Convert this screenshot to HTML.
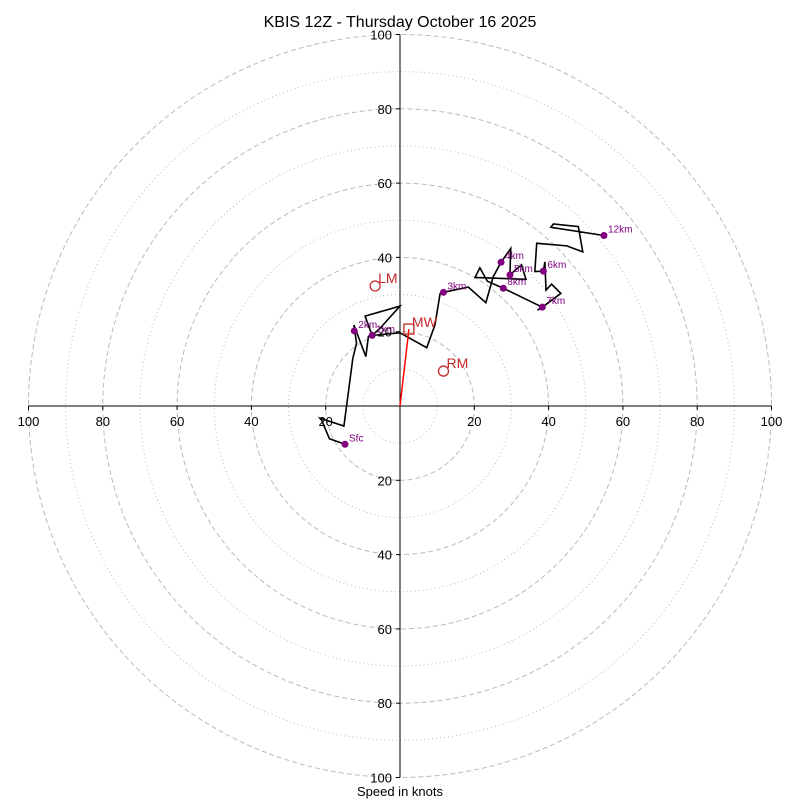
<!DOCTYPE html>
<html><head><meta charset="utf-8"><style>
body{margin:0;background:#fff}svg{display:block;font-family:"Liberation Sans",sans-serif}
</style></head><body>
<svg id="c" width="800" height="800"></svg>
<script>
const pathU=[-14.8,-19.0,-21.1,-21.5,-15.1,-12.7,-11.7,-12.4,-9.2,-8.5,-7.5,-9.4,0,-5.4,-7.5,0,7.2,9.4,10.8,11.7,18.4,23.1,25.1,27.2,29.8,29.6,32.7,33.9,20.2,21.5,23.5,27.8,38.3,37.0,38.3,43.3,40.8,39.3,39.0,38.6,36.3,36.8,44.9,49.2,48.0,41.3,40.6,54.9];
const pathV=[-10.3,-8.8,-3.8,-3.3,-5.4,12.8,16.9,21.8,13.3,18.7,19.0,24.2,26.9,20.9,19.0,19.7,15.7,21.8,30.3,30.6,32.0,27.8,34.8,38.7,42.4,35.3,38.0,34.1,34.6,37.2,33.6,31.7,26.6,25.8,26.6,30.3,32.8,31.2,38.8,36.3,36.2,43.8,43.1,41.5,48.3,49.0,48.1,45.9];
const markLabels=["Sfc","1km","2km","3km","4km","5km","6km","7km","8km","12km"];
const markU=[-14.8,-7.5,-12.3,11.7,27.2,29.6,38.6,38.3,27.8,54.9];
const markV=[-10.3,19.0,20.2,30.6,38.7,35.3,36.3,26.6,31.7,45.9];
const ringVals=[10,20,30,40,50,60,70,80,90,100];
const tickVals=[20,40,60,80,100];
const lmUV=[-6.7,32.3], rmUV=[11.7,9.4], mwUV=[2.4,20.7];
const CX=400,CY=406,S=3.715;
const X=u=>CX+u*S, Y=v=>CY-v*S;
const svg=document.getElementById('c');const NS='http://www.w3.org/2000/svg';
function mk(t,a,txt){const e=document.createElementNS(NS,t);for(const k in a)e.setAttribute(k,a[k]);if(txt!==undefined)e.textContent=txt;svg.appendChild(e);return e;}
ringVals.forEach(r=>{const e=mk('circle',{cx:CX,cy:CY,r:r*S,fill:'none',stroke:'#bbb','stroke-width':1,'stroke-dasharray':r%20?'1,3':'5,3'});

});
let a=mk('line',{x1:X(-100),y1:CY,x2:X(100),y2:CY,stroke:'#000'});
a=mk('line',{x1:CX,y1:Y(100),x2:CX,y2:Y(-100),stroke:'#000'});
tickVals.forEach(t=>{[-1,1].forEach(s=>{
let e=mk('line',{x1:X(s*t),y1:CY,x2:X(s*t),y2:CY+4,stroke:'#000'});
e=mk('text',{x:X(s*t),y:CY+20,'text-anchor':'middle','font-size':13},t);
e=mk('line',{x1:CX-4,y1:Y(s*t),x2:CX,y2:Y(s*t),stroke:'#000'});
e=mk('text',{x:CX-8,y:Y(s*t)+5,'text-anchor':'end','font-size':13},t);
});});
let p=mk('polyline',{points:pathU.map((u,i)=>X(u)+','+Y(pathV[i])).join(' '),fill:'none',stroke:'#000','stroke-width':1.6});

markU.forEach((u,i)=>{let e=mk('circle',{cx:X(u),cy:Y(markV[i]),r:3.5,fill:'#800080'});

e=mk('text',{x:X(u)+4,y:Y(markV[i])-3,'font-size':10,fill:'#800080'},markLabels[i]);
});
let m=mk('line',{x1:CX,y1:CY,x2:X(mwUV[0]),y2:Y(mwUV[1]),stroke:'red','stroke-width':1.5});
m=mk('rect',{x:X(mwUV[0])-5,y:Y(mwUV[1])-5,width:10,height:10,fill:'none',stroke:'#c62828','stroke-width':1.3});
m=mk('text',{x:X(mwUV[0])+3,y:Y(mwUV[1])-2,'font-size':14,fill:'#c62828'},'MW');
[[lmUV,'LM'],[rmUV,'RM']].forEach(([uv,l])=>{let e=mk('circle',{cx:X(uv[0]),cy:Y(uv[1]),r:5,fill:'none',stroke:'#c62828','stroke-width':1.3});

e=mk('text',{x:X(uv[0])+3,y:Y(uv[1])-3,'font-size':14,fill:'#c62828'},l);
});
let t=mk('text',{x:400,y:27,'text-anchor':'middle','font-size':16},'KBIS 12Z - Thursday October 16 2025');
t=mk('text',{x:400,y:796,'text-anchor':'middle','font-size':13},'Speed in knots');
</script></body></html>
